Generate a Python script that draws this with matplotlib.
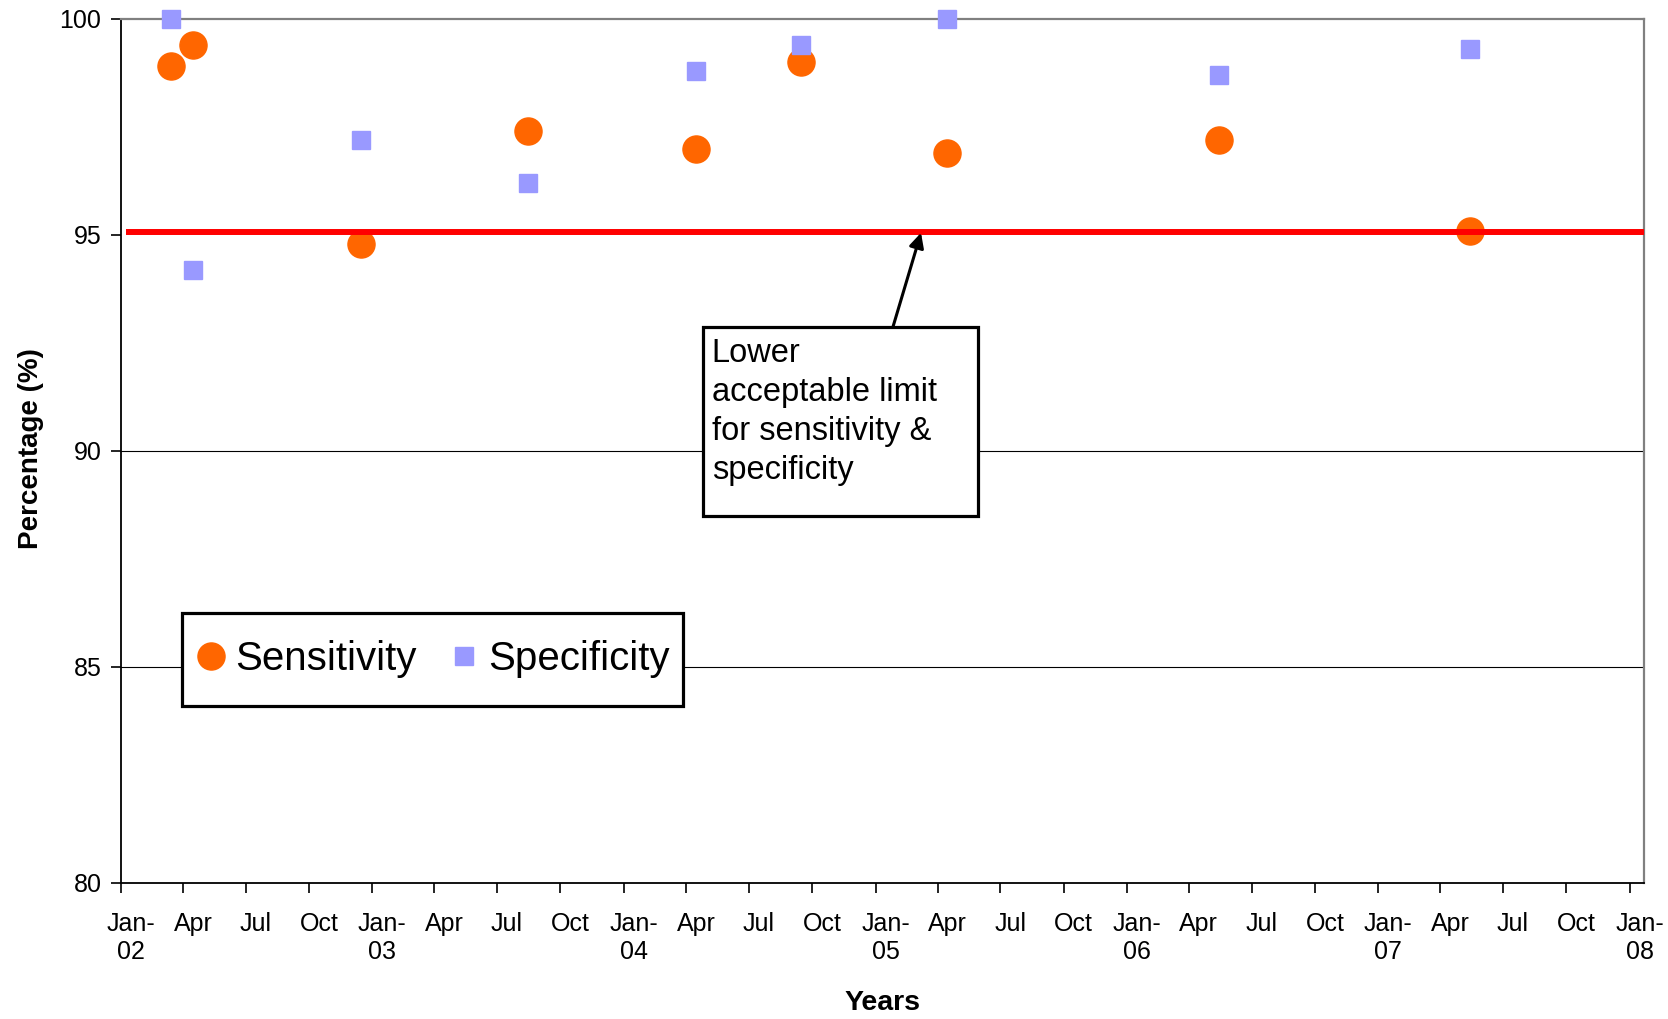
import numpy as np
import matplotlib
matplotlib.use("Agg")
import matplotlib.pyplot as plt
import matplotlib.dates as mdates
import matplotlib.transforms as mtransforms
from matplotlib.patches import Rectangle

plt.rcParams['font.family'] = ['Liberation Sans', 'DejaVu Sans']

# data
sens_dates = np.array(['2002-03-15', '2002-04-15', '2002-12-15', '2003-08-15', '2004-04-15',
                       '2004-09-15', '2005-04-15', '2006-05-15', '2007-05-15'], dtype='datetime64[D]')
sens_vals = [98.9, 99.4, 94.8, 97.4, 97.0, 99.0, 96.9, 97.2, 95.1]

spec_dates = sens_dates.copy()
spec_vals = [100.0, 94.2, 97.2, 96.2, 98.8, 99.4, 100.0, 98.7, 99.3]

limit_dates = np.array(['2002-01-08', '2008-02-01'], dtype='datetime64[D]')
limit_vals = [95.07, 95.07]

x_start = np.datetime64('2002-01-01')
x_end = np.datetime64('2008-01-22')
y_ticks = [80, 85, 90, 95, 100]
grid_vals = [85, 90]

fig = plt.figure(figsize=(16.68, 10.19), dpi=100)
ax = fig.add_axes([0.0725, 0.1335, 0.9131, 0.8479])

for v in grid_vals:
    ax.axhline(v, color='black', lw=0.8, zorder=1)

ax.plot(sens_dates, sens_vals, 'o', color='#FF6600', ms=19.5, mec='#FF6600',
        label='Sensitivity', zorder=3, clip_on=False)
ax.plot(spec_dates, spec_vals, 's', color='#9999FF', ms=12.5, mec='#9999FF',
        label='Specificity', zorder=3, clip_on=False)
ax.plot(limit_dates, limit_vals, color='#FF0000', lw=4.3, zorder=4, solid_capstyle='butt')

ax.set_xlim(x_start, x_end)
ax.set_ylim(80, 100)
ax.set_yticks(y_ticks)

ax.xaxis.set_major_locator(mdates.MonthLocator(bymonth=[1, 4, 7, 10]))

def fmt(x, pos):
    d = mdates.num2date(x)
    if d.month == 1:
        return d.strftime('%b-\n%y')
    return d.strftime('%b')

ax.xaxis.set_major_formatter(plt.FuncFormatter(fmt))
ax.tick_params(axis='x', length=7, width=1.2, labelsize=18, pad=14, direction='out')
ax.tick_params(axis='y', length=7, width=1.2, labelsize=18, pad=7, direction='out')
offset = mtransforms.ScaledTranslation(10 / 100, 0, fig.dpi_scale_trans)
for lab in ax.get_xticklabels():
    lab.set_transform(lab.get_transform() + offset)
    lab.set_linespacing(1.2)

for s in ['left', 'bottom']:
    ax.spines[s].set_color('black')
    ax.spines[s].set_linewidth(1.3)
for s in ['top', 'right']:
    ax.spines[s].set_color('#808080')
    ax.spines[s].set_linewidth(1.6)

ax.set_xlabel('Years', fontsize=20.5, fontweight='bold', va='center')
ax.xaxis.set_label_coords(0.4997, -0.139)
ax.set_ylabel('Percentage (%)', fontsize=20, fontweight='bold', va='center')
ax.yaxis.set_label_coords(-0.0591, 0.5023)

# legend box drawn separately so its size matches the original
ax.add_patch(Rectangle((0.0399, 0.205), 0.3291, 0.1078, transform=ax.transAxes,
                       facecolor='white', edgecolor='black', lw=2.3, zorder=5))
leg = ax.legend(loc='center', bbox_to_anchor=(0.2031, 0.259), ncol=2, fontsize=29,
                frameon=False, handletextpad=0.1, columnspacing=0.7, borderpad=0.4,
                handlelength=1.0, borderaxespad=0)
leg.set_zorder(6)

# annotation box
ax.add_patch(Rectangle((0.3821, 0.4248), 0.1804, 0.2188, transform=ax.transAxes,
                       facecolor='white', edgecolor='black', lw=2.3, zorder=6))
ax.text(0.3878, 0.631, 'Lower\nacceptable limit\nfor sensitivity &\nspecificity',
        transform=ax.transAxes, ha='left', va='top', fontsize=23.5, linespacing=1.34, zorder=7)
ax.annotate('', xy=(np.datetime64('2005-03-08'), 95.05), xytext=(0.5069, 0.6436),
            textcoords='axes fraction',
            arrowprops=dict(arrowstyle='-|>', color='black', lw=2.2, mutation_scale=22,
                            shrinkA=0, shrinkB=0), zorder=7)

fig.savefig('out.png', dpi=100)
